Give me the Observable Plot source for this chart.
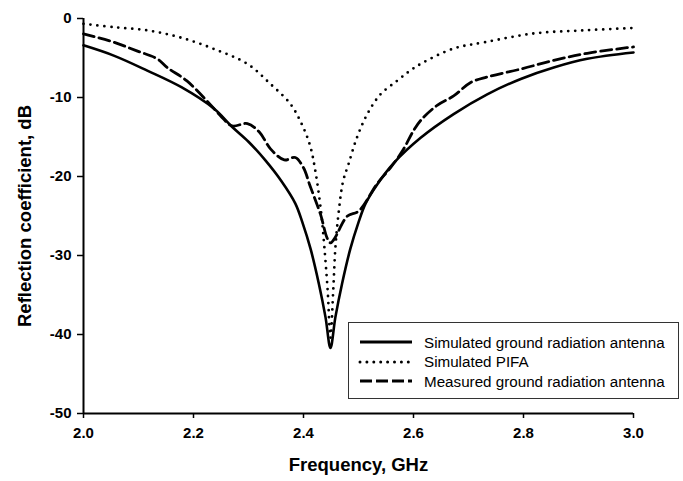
<!DOCTYPE html>
<html>
<head>
<meta charset="utf-8">
<script src="https://cdn.jsdelivr.net/npm/d3@7"></script>
<script src="https://cdn.jsdelivr.net/npm/@observablehq/plot@0.6"></script>
<style>
  html, body { margin: 0; padding: 0; background: #fff; }
  #wrap { position: relative; width: 683px; height: 481px; font-family: "Liberation Sans", Arial, sans-serif; }
  #legend { position: absolute; left: 348px; top: 322px; width: 331px; height: 77px; border: 1px solid #333; background: #fff; box-sizing: border-box; }
  .row { position: absolute; left: 0; height: 20px; display: flex; align-items: center; }
  .row svg { margin-left: 9px; }
  .row span { margin-left: 10px; font-size: 15.2px; color: #000; }
</style>
</head>
<body>
<div id="wrap"></div>
<script>
// Simulated ground radiation antenna
const simGroundF  = [2.000, 2.055, 2.116, 2.178, 2.237, 2.270, 2.300, 2.330, 2.360, 2.385, 2.398, 2.413, 2.428, 2.440, 2.449, 2.458, 2.470, 2.485, 2.500, 2.513, 2.534, 2.564, 2.613, 2.673, 2.734, 2.795, 2.855, 2.916, 3.000];
const simGroundDB = [-3.4, -4.7, -6.6, -8.7, -11.4, -13.7, -15.6, -17.9, -20.6, -23.4, -25.8, -29.2, -33.6, -37.8, -41.7, -37.8, -33.6, -29.2, -25.8, -23.4, -21.0, -18.3, -15.1, -12.1, -9.6, -7.65, -6.2, -5.1, -4.3];

// Simulated PIFA
const pifaF  = [2.000, 2.055, 2.116, 2.176, 2.237, 2.298, 2.340, 2.376, 2.397, 2.412, 2.422, 2.432, 2.438, 2.444, 2.449, 2.454, 2.458, 2.464, 2.472, 2.482, 2.497, 2.516, 2.540, 2.570, 2.590, 2.613, 2.673, 2.730, 2.818, 2.910, 3.000];
const pifaDB = [-0.67, -1.1, -1.5, -2.4, -3.85, -5.75, -8.3, -10.8, -13.4, -16.1, -19.5, -24.5, -29.0, -34.5, -40.4, -34.5, -29.0, -24.5, -20.6, -18.4, -15.1, -12.1, -9.6, -7.9, -6.8, -5.75, -3.8, -3.0, -1.9, -1.5, -1.2];

// Measured ground radiation antenna
const measF  = [2.000, 2.055, 2.097, 2.134, 2.152, 2.188, 2.224, 2.249, 2.270, 2.298, 2.320, 2.340, 2.365, 2.385, 2.400, 2.411, 2.420, 2.431, 2.443, 2.449, 2.456, 2.480, 2.500, 2.534, 2.558, 2.580, 2.600, 2.613, 2.643, 2.673, 2.704, 2.734, 2.795, 2.855, 2.916, 2.988, 3.000];
const measDB = [-1.95, -3.0, -4.1, -5.1, -6.2, -7.9, -10.4, -12.3, -13.6, -13.3, -14.4, -16.5, -17.9, -17.6, -18.9, -21.0, -22.7, -24.8, -27.8, -28.4, -27.9, -25.0, -24.4, -20.9, -18.9, -16.75, -14.2, -12.9, -11.0, -9.8, -8.1, -7.4, -6.4, -5.3, -4.4, -3.7, -3.6];

const xTicks = [2.0, 2.2, 2.4, 2.6, 2.8, 3.0];
const yTicks = [0, -10, -20, -30, -40, -50];
const xTitle = "Frequency, GHz";
const yTitle = "Reflection coefficient, dB";
const seriesNames = ["Simulated ground radiation antenna", "Simulated PIFA", "Measured ground radiation antenna"];

const toRows = (fs, vs) => fs.map((f, i) => ({f, v: vs[i]}));
const simGround = toRows(simGroundF, simGroundDB);
const pifa = toRows(pifaF, pifaDB);
const meas = toRows(measF, measDB);

const chart = Plot.plot({
  width: 683,
  height: 481,
  marginLeft: 83,
  marginRight: 50,
  marginTop: 18,
  marginBottom: 68,
  style: {fontFamily: "'Liberation Sans', Arial, sans-serif", fontSize: "15px", fontWeight: "bold", color: "#000", background: "#fff"},
  x: {domain: [2, 3]},
  y: {domain: [-50, 0]},
  marks: [
    Plot.axisX({ticks: xTicks, tickFormat: d => d.toFixed(1), tickSize: 5, tickPadding: 9, strokeWidth: 1.5, label: null, fontSize: 15, fontWeight: "bold"}),
    Plot.axisY({ticks: yTicks, tickFormat: d => String(d), tickSize: 6, tickPadding: 6, strokeWidth: 1.5, label: null, fontSize: 15, fontWeight: "bold"}),
    Plot.ruleY([-50], {stroke: "#000", strokeWidth: 2}),
    Plot.ruleX([2], {stroke: "#000", strokeWidth: 2}),
    Plot.line(pifa, {x: "f", y: "v", stroke: "#000", strokeWidth: 2.8, strokeDasharray: "0,7", strokeLinecap: "round", curve: "catmull-rom"}),
    Plot.line(meas, {x: "f", y: "v", stroke: "#000", strokeWidth: 2.8, strokeDasharray: "11,5", curve: "catmull-rom"}),
    Plot.line(simGround, {x: "f", y: "v", stroke: "#000", strokeWidth: 2.6, curve: "catmull-rom"}),
    Plot.text([xTitle], {frameAnchor: "bottom", dy: 57, fontSize: 18.5, fontWeight: "bold", fill: "#000"}),
    Plot.text([yTitle], {frameAnchor: "left", textAnchor: "middle", dx: -58, rotate: -90, fontSize: 18.5, fontWeight: "bold", fill: "#000"})
  ]
});

const wrap = document.getElementById("wrap");
wrap.appendChild(chart);

const legend = document.createElement("div");
legend.id = "legend";
const dashes = [null, "0,6.9", "12,4"];
const caps = ["butt", "round", "butt"];
seriesNames.forEach((name, i) => {
  const row = document.createElement("div");
  row.className = "row";
  row.style.top = (9 + i * 19.5) + "px";
  row.innerHTML = `<svg width="56" height="8"><line x1="2" y1="4" x2="54" y2="4" stroke="#000" stroke-width="3" ${dashes[i] ? `stroke-dasharray="${dashes[i]}"` : ""} stroke-linecap="${caps[i]}"/></svg><span>${name}</span>`;
  legend.appendChild(row);
});
wrap.appendChild(legend);
</script>
</body>
</html>
